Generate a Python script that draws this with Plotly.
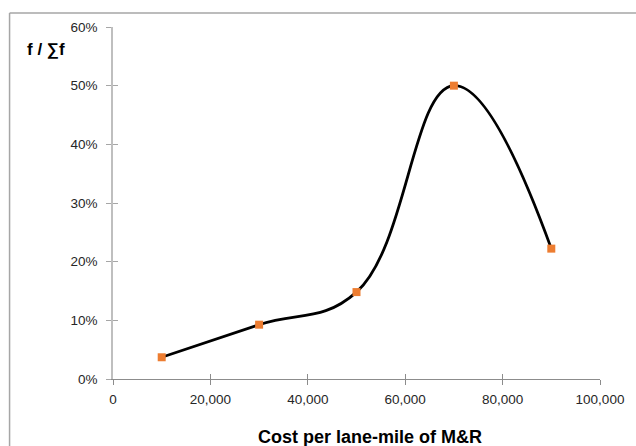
import plotly.graph_objects as go

# Cost classes (bin midpoints) and relative frequency f / sum(f)
cost = [10000, 30000, 50000, 70000, 90000]
freq = [2, 5, 8, 27, 12]
total = sum(freq)
rel_freq = [f / total for f in freq]

x_ticks = [0, 20000, 40000, 60000, 80000, 100000]
x_tick_text = ["0", "20,000", "40,000", "60,000", "80,000", "100,000"]
y_ticks = [0, 0.1, 0.2, 0.3, 0.4, 0.5, 0.6]
y_tick_text = ["0%", "10%", "20%", "30%", "40%", "50%", "60%"]

FONT = "Liberation Sans, Arial, sans-serif"

fig = go.Figure()
fig.add_trace(go.Scatter(
    x=cost, y=rel_freq,
    mode="lines+markers",
    line=dict(color="black", width=2.8, shape="spline", smoothing=1.2),
    marker=dict(symbol="square", size=8, color="#ED7D31"),
    showlegend=False,
    cliponaxis=False,
))

fig.update_layout(
    width=636, height=446,
    margin=dict(l=113, r=31, t=27, b=67),
    paper_bgcolor="white", plot_bgcolor="white",
    font=dict(family=FONT, size=13, color="#404040"),
    xaxis=dict(
        range=[0, 100000], tickvals=x_ticks, ticktext=x_tick_text,
        showgrid=False, zeroline=False,
        showline=True, linecolor="#8c8c8c", linewidth=1,
        ticks="outside", ticklen=5, tickcolor="#8c8c8c",
        ticklabelstandoff=3,
        tickfont=dict(size=13.5, color="#262626", family=FONT),
    ),
    yaxis=dict(
        range=[0, 0.6], tickvals=y_ticks, ticktext=y_tick_text,
        showgrid=False, zeroline=False,
        showline=True, linecolor="#bfbfbf", linewidth=1.5,
        ticks="outside", ticklen=5, tickcolor="#a6a6a6",
        ticklabelstandoff=6,
        tickfont=dict(size=13.5, color="#262626", family=FONT),
    ),
    # mirrored axes supply the inner half of the crossing tick marks
    xaxis2=dict(
        range=[0, 100000], tickvals=x_ticks, showticklabels=False,
        overlaying="x", side="bottom", anchor="y",
        showgrid=False, zeroline=False, showline=False,
        ticks="inside", ticklen=5, tickcolor="#8c8c8c",
    ),
    yaxis2=dict(
        range=[0, 0.6], tickvals=y_ticks, showticklabels=False,
        overlaying="y", side="left", anchor="x",
        showgrid=False, zeroline=False, showline=False,
        ticks="inside", ticklen=5, tickcolor="#a6a6a6",
    ),
    annotations=[
        dict(text="<b>f / ∑f</b>", xref="paper", yref="paper",
             x=-0.138, y=0.9375, xanchor="center", yanchor="middle",
             showarrow=False, font=dict(size=17, color="black", family=FONT)),
        dict(text="<b>Cost per lane-mile of M&R</b>", xref="paper", yref="paper",
             x=0.528, y=-0.166, xanchor="center", yanchor="middle",
             showarrow=False, font=dict(size=18, color="black", family=FONT)),
    ],
    shapes=[
        # chart frame (top and left edges)
        dict(type="line", xref="paper", yref="paper",
             x0=-0.2124, x1=1.1, y0=1.04, y1=1.04,
             line=dict(color="#a6a6a6", width=1.5)),
        dict(type="line", xref="paper", yref="paper",
             x0=-0.2124, x1=-0.2124, y0=-0.3, y1=1.04,
             line=dict(color="#a6a6a6", width=1.5)),
    ],
)

# dummy trace to activate the secondary tick axes
fig.add_trace(go.Scatter(x=[None], y=[None], xaxis="x2", yaxis="y2",
                         showlegend=False, hoverinfo="skip"))

fig.write_html("out.html")
